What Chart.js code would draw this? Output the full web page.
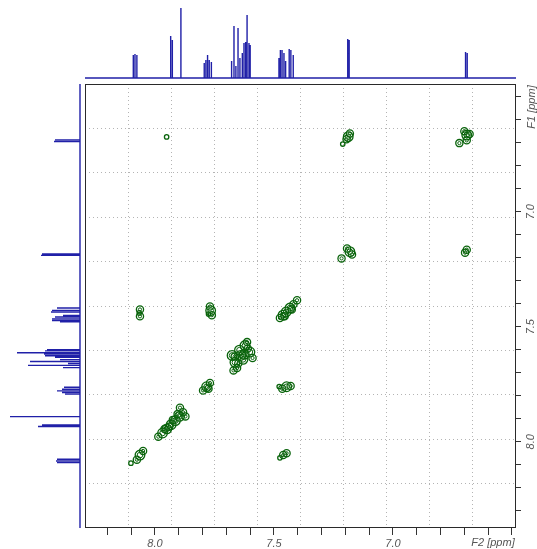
<!DOCTYPE html>
<html>
<head>
<meta charset="utf-8">
<script src="https://cdn.jsdelivr.net/npm/chart.js@4.4.0/dist/chart.umd.min.js"></script>
<style>
  body { margin: 0; background: #fff; width: 537px; height: 549px; overflow: hidden; position: relative; }
  canvas { position: absolute; }
</style>
</head>
<body>
<canvas id="topSpec" width="431" height="79" style="left:85px; top:0;"></canvas>
<canvas id="sideSpec" width="81" height="444" style="left:0; top:84px;"></canvas>
<canvas id="cosy" width="452" height="465" style="left:85px; top:84px;"></canvas>
<script>
// axis ranges (ppm)
const f2Range = [8.294, 6.483];   // left -> right
const f1Range = [6.445, 8.375];   // top -> bottom

const f2Ticks = [8.2, 8.1, 8.0, 7.9, 7.8, 7.7, 7.6, 7.5, 7.4, 7.3, 7.2, 7.1, 7.0, 6.9, 6.8, 6.7, 6.6, 6.5];
const f1Ticks = [6.5, 6.6, 6.7, 6.8, 6.9, 7.0, 7.1, 7.2, 7.3, 7.4, 7.5, 7.6, 7.7, 7.8, 7.9, 8.0, 8.1, 8.2, 8.3];
const tickLabels = ['8.0', '7.5', '7.0'];

// 1D projection lines
const peakPpm = [8.091, 8.084, 8.076, 7.934, 7.927, 7.891, 7.793, 7.786, 7.779, 7.772, 7.763,
  7.678, 7.668, 7.660, 7.651, 7.643, 7.633, 7.626, 7.619, 7.613, 7.605, 7.600,
  7.479, 7.473, 7.466, 7.458, 7.451, 7.436, 7.429, 7.419, 7.190, 7.184, 6.695, 6.688];
const peakHeight = [23, 24, 23, 42, 38, 70, 15, 18, 23, 18, 16,
  17, 52, 12, 50, 20, 25, 35, 36, 63, 35, 33,
  20, 28, 28, 25, 17, 29, 28, 23, 39, 38, 26, 25];

// cross peak contour rings
const crossF2 = [7.951,
  7.188, 7.181, 7.195, 7.211,
  6.690, 6.700, 6.678, 6.690, 6.721,
  7.181, 7.193, 7.172, 7.216,
  6.697, 6.690,
  8.063, 8.063, 8.066,
  7.986, 7.968, 7.950, 7.932, 7.914, 7.897, 7.882, 7.895, 7.872, 7.960, 7.925, 7.940, 7.905,
  8.063, 8.076, 8.050, 8.101,
  7.769, 7.766, 7.761, 7.775,
  7.475, 7.462, 7.449, 7.433, 7.418, 7.403, 7.455, 7.425,
  7.664, 7.676, 7.645, 7.622, 7.601, 7.590, 7.630, 7.655, 7.613, 7.640, 7.670, 7.610, 7.650, 7.625, 7.665,
  7.447, 7.430, 7.465, 7.478,
  7.783, 7.798, 7.769, 7.775,
  7.461, 7.447, 7.475];
const crossF1 = [6.675,
  6.674, 6.660, 6.685, 6.706,
  6.667, 6.650, 6.662, 6.690, 6.702,
  7.174, 7.160, 7.186, 7.203,
  7.178, 7.165,
  7.425, 7.455, 7.440,
  7.978, 7.962, 7.944, 7.926, 7.908, 7.890, 7.872, 7.852, 7.890, 7.945, 7.905, 7.935, 7.880,
  8.058, 8.078, 8.040, 8.093,
  7.412, 7.430, 7.450, 7.445,
  7.462, 7.450, 7.436, 7.419, 7.402, 7.385, 7.455, 7.425,
  7.655, 7.625, 7.602, 7.582, 7.610, 7.636, 7.642, 7.680, 7.567, 7.625, 7.690, 7.595, 7.660, 7.620, 7.630,
  7.761, 7.758, 7.770, 7.760,
  7.761, 7.777, 7.745, 7.770,
  8.058, 8.050, 8.070];
const crossLevel = [1,
  3, 2, 2, 1,
  3, 2, 2, 2, 2,
  3, 2, 2, 2,
  2, 2,
  2, 2, 1,
  2, 3, 3, 3, 3, 3, 2, 2, 2, 2, 2, 2, 2,
  3, 2, 2, 1,
  2, 3, 2, 1,
  2, 3, 3, 3, 2, 2, 2, 2,
  3, 3, 3, 3, 3, 2, 3, 2, 2, 3, 2, 2, 2, 3, 2,
  3, 2, 2, 1,
  3, 2, 2, 2,
  2, 2, 1];

const blue = '#2020a8';
const green = '#0a640c';
const labelFont = { family: '"Liberation Sans", Arial, sans-serif', size: 11, style: 'italic' };
Chart.defaults.font.family = labelFont.family;

function projection(vertical) {
  const pts = [];
  const add = (ppm, h) => pts.push(vertical ? { x: h, y: ppm } : { x: ppm, y: h });
  add(vertical ? f1Range[1] : f2Range[0], 0);
  peakPpm.forEach((p, i) => { add(p, 0); add(p, peakHeight[i]); add(p, 0); });
  add(vertical ? f1Range[0] : f2Range[1], 0);
  return pts;
}

const plain = { responsive: false, animation: false, events: [], devicePixelRatio: 1,
  layout: { padding: 0, autoPadding: false },
  plugins: { legend: { display: false }, tooltip: { enabled: false } } };

new Chart(document.getElementById('topSpec'), {
  type: 'scatter',
  data: { datasets: [{ data: projection(false), showLine: true, pointRadius: 0, borderColor: blue, borderWidth: 1.4 }] },
  options: { ...plain, scales: {
    x: { type: 'linear', display: false, reverse: true, min: f2Range[1], max: f2Range[0] },
    y: { display: false, min: -1, max: 78 }
  } }
});

new Chart(document.getElementById('sideSpec'), {
  type: 'scatter',
  data: { datasets: [{ data: projection(true), showLine: true, pointRadius: 0, borderColor: blue, borderWidth: 1.4 }] },
  options: { ...plain, scales: {
    x: { type: 'linear', display: false, reverse: true, min: -1, max: 80 },
    y: { display: false, reverse: true, min: f1Range[0], max: f1Range[1] }
  } }
});

const frame = {
  id: 'frame',
  afterDraw(chart) {
    const { ctx, chartArea: a } = chart;
    ctx.save();
    ctx.strokeStyle = '#2a2a2a';
    ctx.lineWidth = 1;
    ctx.strokeRect(a.left + 0.5, a.top + 0.5, a.width - 1, a.height - 1);
    ctx.fillStyle = '#555';
    ctx.font = 'italic 11px ' + labelFont.family;
    ctx.textAlign = 'center';
    ctx.textBaseline = 'middle';
    ctx.fillText('F2 [ppm]', a.right - 23, a.bottom + 15);
    ctx.translate(a.right + 16, a.top + 23);
    ctx.rotate(-Math.PI / 2);
    ctx.fillText('F1 [ppm]', 0, 0);
    ctx.restore();
  }
};

const labelOf = v => tickLabels.includes(v.toFixed(1)) ? v.toFixed(1) : '';
const gridOnly = { color: '#b4b4b4', lineWidth: 1, drawTicks: false };
const ringSize = [0, 2.2, 3.6, 4.8];
const rings = crossF2.map((x, i) => ({ x, y: crossF1[i] }));

new Chart(document.getElementById('cosy'), {
  type: 'scatter',
  data: { datasets: [
    { data: rings, pointStyle: 'circle', backgroundColor: 'rgba(0,0,0,0)', borderColor: green, borderWidth: 1.3,
      pointRadius: c => ringSize[crossLevel[c.dataIndex]] },
    { data: rings, pointStyle: 'circle', backgroundColor: 'rgba(0,0,0,0)', borderColor: green, borderWidth: 1,
      pointRadius: c => crossLevel[c.dataIndex] > 1 ? ringSize[crossLevel[c.dataIndex]] - 2 : 0 }
  ] },
  options: { ...plain, scales: {
    x: { type: 'linear', position: 'bottom', reverse: true, min: f2Range[1], max: f2Range[0],
      afterBuildTicks: s => { s.ticks = f2Ticks.map(value => ({ value })); },
      afterFit: s => { s.height = 21; s.paddingLeft = 0; s.paddingRight = 0; },
      ticks: { autoSkip: false, maxRotation: 0, padding: 2, color: '#555', font: labelFont, callback: labelOf },
      grid: { drawOnChartArea: false, tickLength: 7, color: '#333', tickColor: '#333' },
      border: { display: false } },
    y: { type: 'linear', position: 'right', reverse: true, min: f1Range[0], max: f1Range[1],
      afterBuildTicks: s => { s.ticks = f1Ticks.map(value => ({ value })); },
      afterFit: s => { s.width = 21; s.paddingTop = 0; s.paddingBottom = 0; },
      ticks: { autoSkip: false, minRotation: 90, maxRotation: 90, crossAlign: 'center', padding: 2,
        color: '#555', font: labelFont, callback: labelOf },
      grid: { drawOnChartArea: false, tickLength: 5, color: '#333', tickColor: '#333' },
      border: { display: false } },
    gx: { type: 'linear', axis: 'x', position: 'top', min: 0, max: 10,
      afterBuildTicks: s => { s.ticks = [1, 2, 3, 4, 5, 6, 7, 8, 9].map(value => ({ value })); },
      afterFit: s => { s.height = 0; s.paddingLeft = 0; s.paddingRight = 0; },
      ticks: { display: false }, grid: gridOnly, border: { display: false, dash: [1, 3] } },
    gy: { type: 'linear', axis: 'y', position: 'left', min: 0, max: 10,
      afterBuildTicks: s => { s.ticks = [1, 2, 3, 4, 5, 6, 7, 8, 9].map(value => ({ value })); },
      afterFit: s => { s.width = 0; s.paddingTop = 0; s.paddingBottom = 0; },
      ticks: { display: false }, grid: gridOnly, border: { display: false, dash: [1, 3] } }
  } },
  plugins: [frame]
});
</script>
</body>
</html>
